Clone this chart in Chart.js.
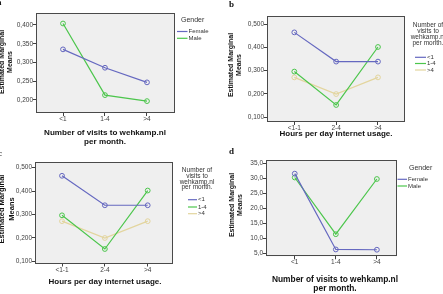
<!DOCTYPE html>
<html>
<head>
<meta charset="utf-8">
<script src="https://cdn.jsdelivr.net/npm/chart.js@4.4.0/dist/chart.umd.min.js"></script>
<style>
    html, body { margin: 0; padding: 0; background: #fff; }
    #wrap { position: relative; width: 443px; height: 294px; overflow: hidden; }
    .panel { position: absolute; }
    canvas { display: block; }
</style>
</head>
<body>
<div id="wrap">
    <div class="panel" style="left:0;top:0"><canvas id="chartA" width="222" height="147"></canvas></div>
    <div class="panel" style="left:222px;top:0"><canvas id="chartB" width="221" height="147"></canvas></div>
    <div class="panel" style="left:0;top:147px"><canvas id="chartC" width="222" height="147"></canvas></div>
    <div class="panel" style="left:222px;top:147px"><canvas id="chartD" width="221" height="147"></canvas></div>
</div>
<script>
// --- DATA ---
const visitCategories = ['<1', '1-4', '>4'];
const hourCategories = ['<1-1', '2-4', '>4'];

// a: share by gender over visits per month
const aFemale = [0.335, 0.286, 0.247];
const aMale = [0.404, 0.213, 0.197];
const aTicks = [0.200, 0.250, 0.300, 0.350, 0.400];

// b and c: share by visit group over hours of internet use
const visitsLess1 = [0.465, 0.339, 0.339];
const visits1to4 = [0.296, 0.152, 0.402];
const visitsMore4 = [0.271, 0.199, 0.271];
const bcTicks = [0.100, 0.200, 0.300, 0.400, 0.500];

// d: score by gender over visits per month
const dFemale = [31.6, 6.2, 6.1];
const dMale = [30.3, 11.3, 29.8];
const dTicks = [5, 10, 15, 20, 25, 30, 35];

// --- STYLE ---
const BLUE = '#6568c0';
const GREEN = '#4cc64c';
const TAN = '#e3d59e';
const FONT = "'Liberation Sans', Arial, sans-serif";

const toPoints = vals => vals.map((v, i) => ({ x: i, y: v }));

function series(label, vals, color) {
    return {
        label: label,
        data: toPoints(vals),
        borderColor: color,
        borderWidth: 1.2,
        pointRadius: 2.4,
        pointBorderWidth: 1,
        pointBackgroundColor: 'rgba(255,255,255,0)',
        pointBorderColor: color,
        tension: 0
    };
}

// draws plot background, frame, panel letter, axis titles and legend
const panelText = {
    id: 'panelText',
    beforeDraw(chart) {
        const a = chart.chartArea;
        const ctx = chart.ctx;
        ctx.save();
        ctx.fillStyle = '#efefef';
        ctx.fillRect(a.left, a.top, a.right - a.left, a.bottom - a.top);
        ctx.restore();
    },
    afterDraw(chart, args, o) {
        const a = chart.chartArea;
        const ctx = chart.ctx;
        ctx.save();
        ctx.strokeStyle = '#4a4a4a';
        ctx.lineWidth = 1;
        ctx.strokeRect(Math.round(a.left) + 0.5, Math.round(a.top) + 0.5,
            Math.round(a.right - a.left) - 1, Math.round(a.bottom - a.top) - 1);

        // panel letter
        ctx.fillStyle = '#111';
        ctx.font = "bold 9px 'Liberation Serif', 'DejaVu Serif', serif";
        ctx.textAlign = 'left';
        ctx.textBaseline = 'middle';
        ctx.fillText(o.letter.text, o.letter.x, o.letter.y);

        // y title
        ctx.font = `bold ${o.yTitle.size}px ${FONT}`;
        ctx.textAlign = 'center';
        o.yTitle.lines.forEach((t, i) => {
            ctx.save();
            ctx.translate(o.yTitle.xs[i], o.yTitle.y);
            ctx.rotate(-Math.PI / 2);
            ctx.fillText(t, 0, 0);
            ctx.restore();
        });

        // x title
        ctx.font = `bold ${o.xTitle.size}px ${FONT}`;
        o.xTitle.lines.forEach((t, i) => ctx.fillText(t, o.xTitle.x, o.xTitle.ys[i]));

        // legend
        const lg = o.legend;
        ctx.fillStyle = '#333';
        ctx.font = `${lg.titleSize}px ${FONT}`;
        ctx.textAlign = lg.titleAlign;
        lg.title.forEach((t, i) => ctx.fillText(t, lg.titleX, lg.titleYs[i]));
        ctx.font = `${lg.itemSize}px ${FONT}`;
        ctx.textAlign = 'left';
        chart.data.datasets.forEach((ds, i) => {
            const y = lg.itemYs[i];
            ctx.strokeStyle = ds.borderColor;
            ctx.lineWidth = 1.2;
            ctx.beginPath();
            ctx.moveTo(lg.lineX0, y);
            ctx.lineTo(lg.lineX1, y);
            ctx.stroke();
            ctx.fillStyle = '#333';
            ctx.fillText(ds.label, lg.lineX1 + 1, y);
        });
        ctx.restore();
    }
};

function makePanel(id, p) {
    const canvas = document.getElementById(id);
    const W = canvas.width, H = canvas.height;
    new Chart(canvas, {
        type: 'line',
        data: { datasets: p.datasets },
        plugins: [panelText],
        options: {
            responsive: false,
            animation: false,
            events: [],
            layout: { padding: { left: 0, top: p.area.top, right: W - p.area.right, bottom: 0 } },
            scales: {
                x: {
                    type: 'linear',
                    min: p.xMin,
                    max: p.xMax,
                    afterBuildTicks: s => { s.ticks = p.cats.map((c, i) => ({ value: i })); },
                    afterFit: s => { s.height = H - p.area.bottom; },
                    ticks: {
                        autoSkip: false, maxRotation: 0, padding: 0,
                        color: '#404040',
                        font: { family: FONT, size: 6.5, lineHeight: 1 },
                        callback: v => p.cats[v]
                    },
                    grid: { drawOnChartArea: false, drawTicks: true, tickLength: 3, color: '#404040' },
                    border: { display: false }
                },
                y: {
                    type: 'linear',
                    min: p.yMin,
                    max: p.yMax,
                    afterBuildTicks: s => { s.ticks = p.yTicks.map(v => ({ value: v })); },
                    afterFit: s => { s.width = p.area.left; },
                    ticks: {
                        padding: 0,
                        color: '#404040',
                        font: { family: FONT, size: 6.5, lineHeight: 1 },
                        callback: v => v.toFixed(p.decimals).replace('.', ',')
                    },
                    grid: { drawOnChartArea: false, drawTicks: true, tickLength: 3, color: '#404040' },
                    border: { display: false }
                }
            },
            plugins: {
                legend: { display: false },
                tooltip: { enabled: false },
                panelText: p.text
            }
        }
    });
}

const yTitleLines = ['Estimated Marginal', 'Means'];
const visitsTitle = ['Number of visits to wehkamp.nl', 'per month.'];
const hoursTitle = ['Hours per day internet usage.'];
const visitLegendTitle = ['Number of', 'visits to', 'wehkamp.nl', 'per month.'];

document.addEventListener('DOMContentLoaded', () => {
    // --- PANEL A ---
    makePanel('chartA', {
        datasets: [series('Female', aFemale, BLUE), series('Male', aMale, GREEN)],
        cats: visitCategories,
        area: { left: 36, right: 175, top: 13, bottom: 113 },
        xMin: -0.643, xMax: 2.667,
        yMin: 0.1653, yMax: 0.432, yTicks: aTicks, decimals: 3,
        text: {
            letter: { text: 'a', x: -3, y: 3 },
            yTitle: { lines: yTitleLines, xs: [2, 10], y: 62, size: 7 },
            xTitle: { lines: visitsTitle, x: 105, ys: [133, 142], size: 8.1 },
            legend: {
                title: ['Gender'], titleX: 181, titleYs: [20], titleAlign: 'left', titleSize: 7,
                itemYs: [31.5, 38.3], lineX0: 177, lineX1: 187.5, itemSize: 6
            }
        }
    });

    // --- PANEL B ---
    makePanel('chartB', {
        datasets: [series('<1', visitsLess1, BLUE), series('1-4', visits1to4, GREEN), series('>4', visitsMore4, TAN)],
        cats: hourCategories,
        area: { left: 45, right: 183, top: 16, bottom: 122 },
        xMin: -0.653, xMax: 2.646,
        yMin: 0.0786, yMax: 0.5356, yTicks: bcTicks, decimals: 3,
        text: {
            letter: { text: 'b', x: 7, y: 5 },
            yTitle: { lines: yTitleLines, xs: [9.5, 17.5], y: 65, size: 7 },
            xTitle: { lines: hoursTitle, x: 114, ys: [134], size: 8 },
            legend: {
                title: visitLegendTitle, titleX: 206, titleYs: [25, 31, 37, 43], titleAlign: 'center', titleSize: 6.5,
                itemYs: [57.3, 63.5, 70], lineX0: 193, lineX1: 204, itemSize: 6
            }
        }
    });

    // --- PANEL C ---
    makePanel('chartC', {
        datasets: [series('<1', visitsLess1, BLUE), series('1-4', visits1to4, GREEN), series('>4', visitsMore4, TAN)],
        cats: hourCategories,
        area: { left: 35, right: 173, top: 15, bottom: 116.5 },
        xMin: -0.63, xMax: 2.59,
        yMin: 0.090, yMax: 0.524, yTicks: bcTicks, decimals: 3,
        text: {
            letter: { text: 'c', x: -2, y: 7 },
            yTitle: { lines: yTitleLines, xs: [1.5, 12], y: 62, size: 7.5 },
            xTitle: { lines: hoursTitle, x: 105, ys: [135], size: 8 },
            legend: {
                title: visitLegendTitle, titleX: 197, titleYs: [23.3, 29, 35, 40.7], titleAlign: 'center', titleSize: 6.5,
                itemYs: [52.7, 60, 66.7], lineX0: 188, lineX1: 197, itemSize: 6
            }
        }
    });

    // --- PANEL D ---
    makePanel('chartD', {
        datasets: [series('Female', dFemale, BLUE), series('Male', dMale, GREEN)],
        cats: visitCategories,
        area: { left: 44, right: 175, top: 13.3, bottom: 109.3 },
        xMin: -0.70, xMax: 2.49,
        yMin: 3.9, yMax: 36.07, yTicks: dTicks, decimals: 1,
        text: {
            letter: { text: 'd', x: 7, y: 5 },
            yTitle: { lines: yTitleLines, xs: [10.5, 18.5], y: 58, size: 7 },
            xTitle: { lines: visitsTitle, x: 113, ys: [133, 141.7], size: 8.4 },
            legend: {
                title: ['Gender'], titleX: 187, titleYs: [20.7], titleAlign: 'left', titleSize: 7,
                itemYs: [32.3, 39], lineX0: 175.5, lineX1: 185, itemSize: 6
            }
        }
    });
});
</script>
</body>
</html>
